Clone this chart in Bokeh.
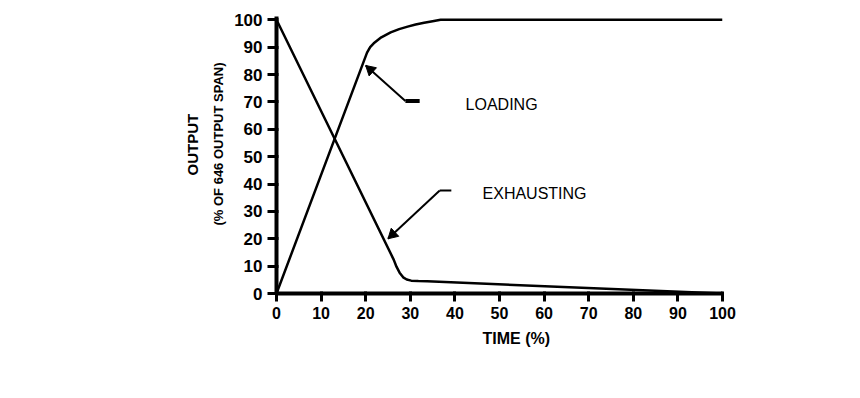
import math
from bokeh.plotting import figure
from bokeh.models import Range1d, FixedTicker, ColumnDataSource, Title
from bokeh.embed import file_html
from bokeh.resources import INLINE

# ---- data ----
time_ticks = [0, 10, 20, 30, 40, 50, 60, 70, 80, 90, 100]
output_ticks = [0, 10, 20, 30, 40, 50, 60, 70, 80, 90, 100]

loading_time = [0, 20.3, 21.0, 21.8, 23.5, 25.6, 27.5, 29.4, 31.2, 33.1, 35.0, 36.8, 100]
loading_output = [0, 88.0, 90.0, 91.4, 93.6, 95.4, 96.6, 97.5, 98.3, 98.9, 99.5, 100, 100]

exhausting_time = [0, 26.3, 26.9, 27.6, 28.4, 29.2, 30.2, 31.8, 33.8, 100]
exhausting_output = [100, 12.3, 9.8, 7.6, 5.9, 5.1, 4.7, 4.55, 4.45, 0]

# annotation anchors (data coordinates)
arrow_tip_x = [20.0, 25.0]
arrow_tip_y = [83.3, 20.0]
arrow_corner_x = [28.9, 36.6]
arrow_corner_y = [70.3, 37.6]
arrow_end_x = [32.1, 39.2]
arrow_tail_width = [4, 2]
note_text = ["LOADING", "EXHAUSTING"]
note_x = [42.4, 46.2]
note_y = [69.2, 36.5]

Y_TOP = 101.2
W, H = 844, 382
B_LEFT, B_RIGHT, B_TOP, B_BOTTOM = 276, 122, 16, 89
PX_X = (W - B_LEFT - B_RIGHT) / 100.0
PX_Y = (H - B_TOP - B_BOTTOM) / Y_TOP

p = figure(width=W, height=H, output_backend="svg", toolbar_location=None,
           x_range=Range1d(0, 100), y_range=Range1d(0, Y_TOP),
           min_border_left=B_LEFT, min_border_right=B_RIGHT,
           min_border_top=B_TOP, min_border_bottom=B_BOTTOM)
p.outline_line_color = None
p.grid.visible = False

p.xaxis.ticker = FixedTicker(ticks=time_ticks)
p.yaxis.ticker = FixedTicker(ticks=output_ticks)
p.xaxis.axis_line_width = 4
p.yaxis.axis_line_width = 4
p.xaxis.major_tick_line_width = 3
p.yaxis.major_tick_line_width = 3
p.xaxis.major_tick_out = 8
p.yaxis.major_tick_out = 9
p.xaxis.major_label_text_font_style = "bold"
p.yaxis.major_label_text_font_style = "bold"
p.xaxis.major_label_text_font_size = "16px"
p.yaxis.major_label_text_font_size = "17px"
p.xaxis.major_label_text_color = "black"
p.yaxis.major_label_text_color = "black"
p.xaxis.major_label_standoff = 5
p.yaxis.major_label_standoff = 5

src_l = ColumnDataSource(dict(x=loading_time, y=loading_output))
src_e = ColumnDataSource(dict(x=exhausting_time, y=exhausting_output))
p.line("x", "y", source=src_l, line_width=2.5, line_color="black", line_join="round")
p.line("x", "y", source=src_e, line_width=2.5, line_color="black", line_join="round")

# arrow shafts and horizontal tails
p.segment(x0=arrow_corner_x, y0=arrow_corner_y, x1=arrow_tip_x, y1=arrow_tip_y,
          line_width=2, line_color="black")
p.segment(x0=arrow_corner_x, y0=arrow_corner_y, x1=arrow_end_x, y1=arrow_corner_y,
          line_width=arrow_tail_width, line_color="black")

# arrow heads: triangle markers rotated along the shaft, tip on the anchor
HEAD = 11
r = HEAD / 2.0
tip_off = 2 * r * math.sqrt(3) / 3
hx, hy, ha = [], [], []
for tx, ty, cx, cy in zip(arrow_tip_x, arrow_tip_y, arrow_corner_x, arrow_corner_y):
    d = math.atan2((ty - cy) * PX_Y, (tx - cx) * PX_X)
    hx.append(tx - math.cos(d) * tip_off / PX_X)
    hy.append(ty - math.sin(d) * tip_off / PX_Y)
    ha.append(d - math.pi / 2)
p.scatter(x=hx, y=hy, angle=ha, marker="triangle", size=HEAD,
          fill_color="black", line_color="black", line_width=1)

p.text(x=note_x, y=note_y, text=note_text, text_font_size="16px",
       text_align="left", text_baseline="middle", text_color="black")

# axis titles
p.add_layout(Title(text="TIME (%)", text_font_size="16px", text_color="black",
                   text_font_style="bold", align="left", offset=206, standoff=12), "below")
p.add_layout(Title(text="(% OF 646 OUTPUT SPAN)", text_font_size="13px",
                   text_color="black", text_font_style="bold", align="left", offset=68,
                   standoff=12), "left")
p.add_layout(Title(text="OUTPUT", text_font_size="15px", text_color="black",
                   text_font_style="bold", align="left", offset=118, standoff=4), "left")

open("out.html", "w").write(file_html(p, INLINE))
